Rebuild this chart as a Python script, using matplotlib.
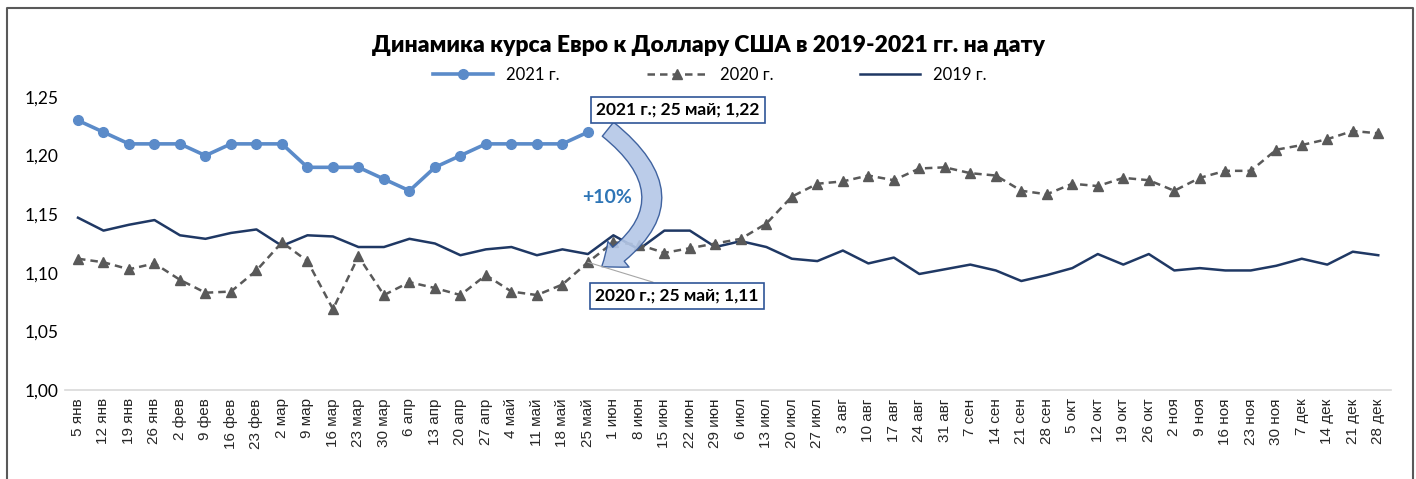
import numpy as np
from matplotlib import pyplot as plt
from matplotlib.lines import Line2D
from matplotlib.patches import FancyArrowPatch
from matplotlib.ticker import FuncFormatter

# weekly dates (categories)
dates_lbl = ['5 янв', '12 янв', '19 янв', '26 янв', '2 фев', '9 фев', '16 фев', '23 фев',
             '2 мар', '9 мар', '16 мар', '23 мар', '30 мар', '6 апр', '13 апр', '20 апр',
             '27 апр', '4 май', '11 май', '18 май', '25 май', '1 июн', '8 июн', '15 июн',
             '22 июн', '29 июн', '6 июл', '13 июл', '20 июл', '27 июл', '3 авг', '10 авг',
             '17 авг', '24 авг', '31 авг', '7 сен', '14 сен', '21 сен', '28 сен', '5 окт',
             '12 окт', '19 окт', '26 окт', '2 ноя', '9 ноя', '16 ноя', '23 ноя', '30 ноя',
             '7 дек', '14 дек', '21 дек', '28 дек']

rate_2021 = [1.23, 1.22, 1.21, 1.21, 1.21, 1.20, 1.21, 1.21, 1.21, 1.19, 1.19, 1.19,
             1.18, 1.17, 1.19, 1.20, 1.21, 1.21, 1.21, 1.21, 1.22]

rate_2020 = [1.112, 1.109, 1.103, 1.108, 1.094, 1.083, 1.084, 1.102, 1.126, 1.110,
             1.069, 1.114, 1.081, 1.092, 1.087, 1.081, 1.098, 1.084, 1.081, 1.090,
             1.109, 1.126, 1.124, 1.117, 1.121, 1.125, 1.129, 1.142, 1.165, 1.176,
             1.178, 1.183, 1.179, 1.189, 1.190, 1.185, 1.183, 1.170, 1.167, 1.176,
             1.174, 1.181, 1.179, 1.170, 1.181, 1.187, 1.187, 1.205, 1.209, 1.214,
             1.221, 1.219]

rate_2019 = [1.147, 1.136, 1.141, 1.145, 1.132, 1.129, 1.134, 1.137, 1.123, 1.132,
             1.131, 1.122, 1.122, 1.129, 1.125, 1.115, 1.120, 1.122, 1.115, 1.120,
             1.116, 1.132, 1.120, 1.136, 1.136, 1.122, 1.127, 1.122, 1.112, 1.110,
             1.119, 1.108, 1.113, 1.099, 1.103, 1.107, 1.102, 1.093, 1.098, 1.104,
             1.116, 1.107, 1.116, 1.102, 1.104, 1.102, 1.102, 1.106, 1.112, 1.107,
             1.118, 1.115]

c21 = '#5b8bc9'
c20 = '#595959'
c19 = '#1f3864'

W, H = 1416, 479
fig = plt.figure(figsize=(W / 100, H / 100), dpi=100)
ax = fig.add_axes([65.25 / W, 1 - 390 / H, (1391 - 65.25) / W, (390 - 97) / H])

x = np.arange(len(dates_lbl))
ax.plot(x, rate_2019, color=c19, lw=1.8, zorder=3)
ax.plot(x, rate_2020, color=c20, lw=1.8, ls=(0, (3, 2)), marker='^', ms=7, zorder=4)
ax.plot(x[:len(rate_2021)], rate_2021, color=c21, lw=2.6, marker='o', ms=7, zorder=5)

ax.set_xlim(-0.5, len(dates_lbl) - 0.5)
ax.set_ylim(1.0, 1.25)
ax.set_yticks(np.arange(1.0, 1.2501, 0.05))
ax.yaxis.set_major_formatter(FuncFormatter(lambda v, p: f'{v:.2f}'.replace('.', ',')))
ax.set_xticks(x)
ax.set_xticklabels(dates_lbl, rotation=90, fontsize=11, family='Liberation Sans', color='#262626')
ax.tick_params(axis='x', length=0, pad=6)
ax.tick_params(axis='y', length=0, pad=5, labelsize=12.5)
for lbl in ax.get_yticklabels():
    lbl.set_family('Lato')
for s in ['top', 'right', 'left']:
    ax.spines[s].set_visible(False)
ax.spines['bottom'].set_color('#d9d9d9')
ax.spines['bottom'].set_linewidth(1.2)

# data labels
i = len(rate_2021) - 1
box = dict(boxstyle='square,pad=0.3', fc='white', ec='#2f5597', lw=1.2)
ax.annotate('2021 г.; 25 май; 1,22', xy=(i, rate_2021[i]), xytext=(678, 479 - 110),
            textcoords='figure pixels', ha='center', va='center', fontsize=12.5,
            fontweight='bold', family='Lato', bbox=box, zorder=7)
ax.annotate('2020 г.; 25 май; 1,11', xy=(i, rate_2020[i]), xytext=(677, 479 - 296),
            textcoords='figure pixels', ha='center', va='center', fontsize=12.5,
            fontweight='bold', family='Lato', bbox=box, zorder=7,
            arrowprops=dict(arrowstyle='-', color='#a6a6a6', lw=0.8,
                            shrinkA=0, shrinkB=0, relpos=(0.47, 1.0)))

# curved arrow 2021 -> 2020
arr = FancyArrowPatch((i + 0.7, 1.224), (i + 0.45, 1.104),
                      connectionstyle='arc3,rad=-0.7',
                      arrowstyle='simple,tail_width=13,head_width=24,head_length=15',
                      mutation_scale=1, fc='#b4c7e7', ec='#2f5597', lw=1.0,
                      alpha=0.9, zorder=6)
ax.add_patch(arr)
ax.text(i + 0.75, 1.164, '+10%', color='#2e75b6', fontsize=14, fontweight='bold',
        family='Lato', ha='center', va='center', zorder=7)

fig.suptitle('Динамика курса Евро к Доллару США в 2019-2021 гг. на дату',
             x=0.5, y=1 - 45 / H, va='center', fontsize=16.5, fontweight='heavy', family='Lato')

handles = [Line2D([], [], color=c21, lw=2.6, marker='o', ms=7),
           Line2D([], [], color=c20, lw=1.8, ls=(0, (3, 2)), marker='^', ms=7),
           Line2D([], [], color=c19, lw=1.8)]
fig.legend(handles, ['2021 г.', '2020 г.', '2019 г.'], loc='center', ncol=3,
           bbox_to_anchor=(710 / W, 1 - 75 / H), frameon=False, handlelength=3.6,
           columnspacing=5.2, prop={'family': 'Lato', 'size': 12})

# chart frame
fig.add_artist(Line2D([7 / W, 7 / W, 1413 / W, 1413 / W], [0, 1 - 8 / H, 1 - 8 / H, 0],
                      transform=fig.transFigure, color='#595959', lw=1.5))

plt.savefig('out.png', dpi=100)
